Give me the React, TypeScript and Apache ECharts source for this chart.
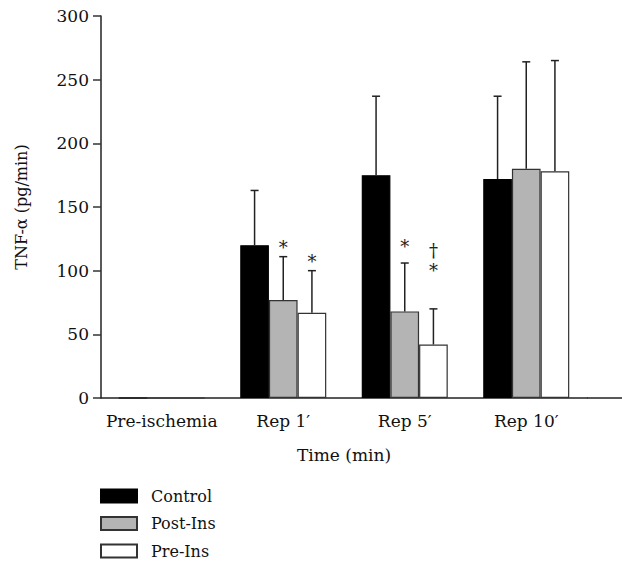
import React, { useEffect, useRef } from "react";
import * as echarts from "echarts";

const categories = ["Pre-ischemia", "Rep 1\u2032", "Rep 5\u2032", "Rep 10\u2032"];
const seriesNames = ["Control", "Post-Ins", "Pre-Ins"];
const controlMean = [0, 120, 175, 172];
const controlUpper = [0, 163, 237, 237];
const postInsMean = [0, 77, 68, 180];
const postInsUpper = [0, 111, 106, 264];
const preInsMean = [0, 67, 42, 178];
const preInsUpper = [0, 100, 70, 265];
const yTicks = [0, 50, 100, 150, 200, 250, 300];
// annotations: [seriesIndex, categoryIndex, value position, symbol]
const annotations: [number, number, number, string][] = [
  [1, 1, 118, "*"],
  [2, 1, 107, "*"],
  [1, 2, 119, "*"],
  [2, 2, 100, "*"],
  [2, 2, 116, "\u2020"],
];

const FONT = "DejaVu Serif";
const fills = ["#000000", "#b4b4b4", "#ffffff"];
const borders = ["#000000", "#333333", "#333333"];
const BAR_FRAC = 0.236;

export default function App() {
  const ref = useRef<HTMLDivElement>(null);
  useEffect(() => {
    if (!ref.current) return;
    const chart = echarts.init(ref.current, null, { renderer: "svg" });
    const means = [controlMean, postInsMean, preInsMean];
    const uppers = [controlUpper, postInsUpper, preInsUpper];

    const barSeries = seriesNames.map((name, si) => ({
      name,
      type: "bar",
      data: means[si],
      barWidth: BAR_FRAC * 100 + "%",
      barGap: "0%",
      itemStyle: { color: fills[si], borderColor: borders[si], borderWidth: 1.2 },
    }));

    const errData: number[][] = [];
    means.forEach((m, si) => {
      m.forEach((v, ci) => {
        if (uppers[si][ci] > v) errData.push([ci, v, uppers[si][ci], si]);
      });
    });

    const errSeries = {
      type: "custom",
      name: "err",
      data: errData,
      encode: { x: 0, y: 2 },
      z: 5,
      renderItem: (params: any, api: any) => {
        const ci = api.value(0);
        const lo = api.value(1);
        const hi = api.value(2);
        const si = api.value(3);
        const band = api.size([1, 0])[0];
        const off = (si - 1) * band * BAR_FRAC;
        const p0 = api.coord([ci, lo]);
        const p1 = api.coord([ci, hi]);
        const x = p0[0] + off;
        const cap = 4;
        const style = { stroke: "#222", lineWidth: 1.5 };
        return {
          type: "group",
          children: [
            { type: "line", shape: { x1: x, y1: p0[1], x2: x, y2: p1[1] }, style },
            { type: "line", shape: { x1: x - cap, y1: p1[1], x2: x + cap, y2: p1[1] }, style },
          ],
        };
      },
    };

    const annSeries = {
      type: "custom",
      name: "ann",
      data: annotations.map((a) => [a[1], a[2], a[0]]),
      encode: { x: 0, y: 1 },
      z: 6,
      renderItem: (params: any, api: any) => {
        const ci = api.value(0);
        const v = api.value(1);
        const si = api.value(2);
        const sym = annotations[params.dataIndex][3];
        const band = api.size([1, 0])[0];
        const off = (si - 1) * band * BAR_FRAC;
        const p = api.coord([ci, v]);
        return {
          type: "text",
          x: p[0] + off,
          y: p[1],
          style: {
            text: sym,
            fontFamily: FONT,
            fontSize: 18,
            fill: "#222",
            align: "center",
            verticalAlign: "middle",
          },
        };
      },
    };

    chart.setOption({
      animation: false,
      grid: { left: 101, right: 35, top: 16, bottom: 166 },
      legend: {
        orient: "vertical",
        left: 100,
        top: 488,
        padding: 0,
        icon: "rect",
        itemWidth: 36,
        itemHeight: 13,
        itemGap: 11.5,
        data: seriesNames,
        textStyle: { fontFamily: FONT, fontSize: 16, color: "#111", padding: [0, 0, 0, 9] },
      },
      xAxis: [
        {
          type: "category",
          data: categories,
          name: "Time (min)",
          nameLocation: "middle",
          nameGap: 48,
          nameTextStyle: { fontFamily: FONT, fontSize: 17, color: "#111" },
          axisLine: { lineStyle: { color: "#222", width: 1.5 } },
          axisTick: { alignWithLabel: true, length: 8, lineStyle: { color: "#333", width: 1.5 } },
          axisLabel: { interval: 0, fontFamily: FONT, fontSize: 17, color: "#111", margin: 14 },
        },
        {
          type: "category",
          data: categories,
          position: "bottom",
          axisLine: { show: false },
          axisTick: { inside: true, length: 3, lineStyle: { color: "#555", width: 1.2 } },
          axisLabel: { show: false },
        },
      ],
      yAxis: {
        type: "value",
        min: 0,
        max: 300,
        interval: 50,
        name: "TNF-\u03b1 (pg/min)",
        nameLocation: "middle",
        nameGap: 72,
        nameTextStyle: { fontFamily: FONT, fontSize: 16, color: "#111" },
        axisLine: { show: true, lineStyle: { color: "#222", width: 1.5 } },
        axisTick: { show: true, length: 8, lineStyle: { color: "#333", width: 1.5 } },
        axisLabel: {
          fontFamily: FONT,
          fontSize: 17,
          color: "#111",
          margin: 12,
          formatter: (v: number) => (yTicks.includes(v) ? String(v) : ""),
        },
        splitLine: { show: false },
      },
      graphic: [
        {
          type: "line",
          shape: { x1: 587, y1: 398, x2: 622, y2: 398 },
          style: { stroke: "#222", lineWidth: 1.5 },
        },
      ],
      series: [...barSeries, errSeries, annSeries],
    });
    return () => chart.dispose();
  }, []);
  return <div ref={ref} style={{ width: 622, height: 564, position: "absolute", left: 0, top: 0 }} />;
}
